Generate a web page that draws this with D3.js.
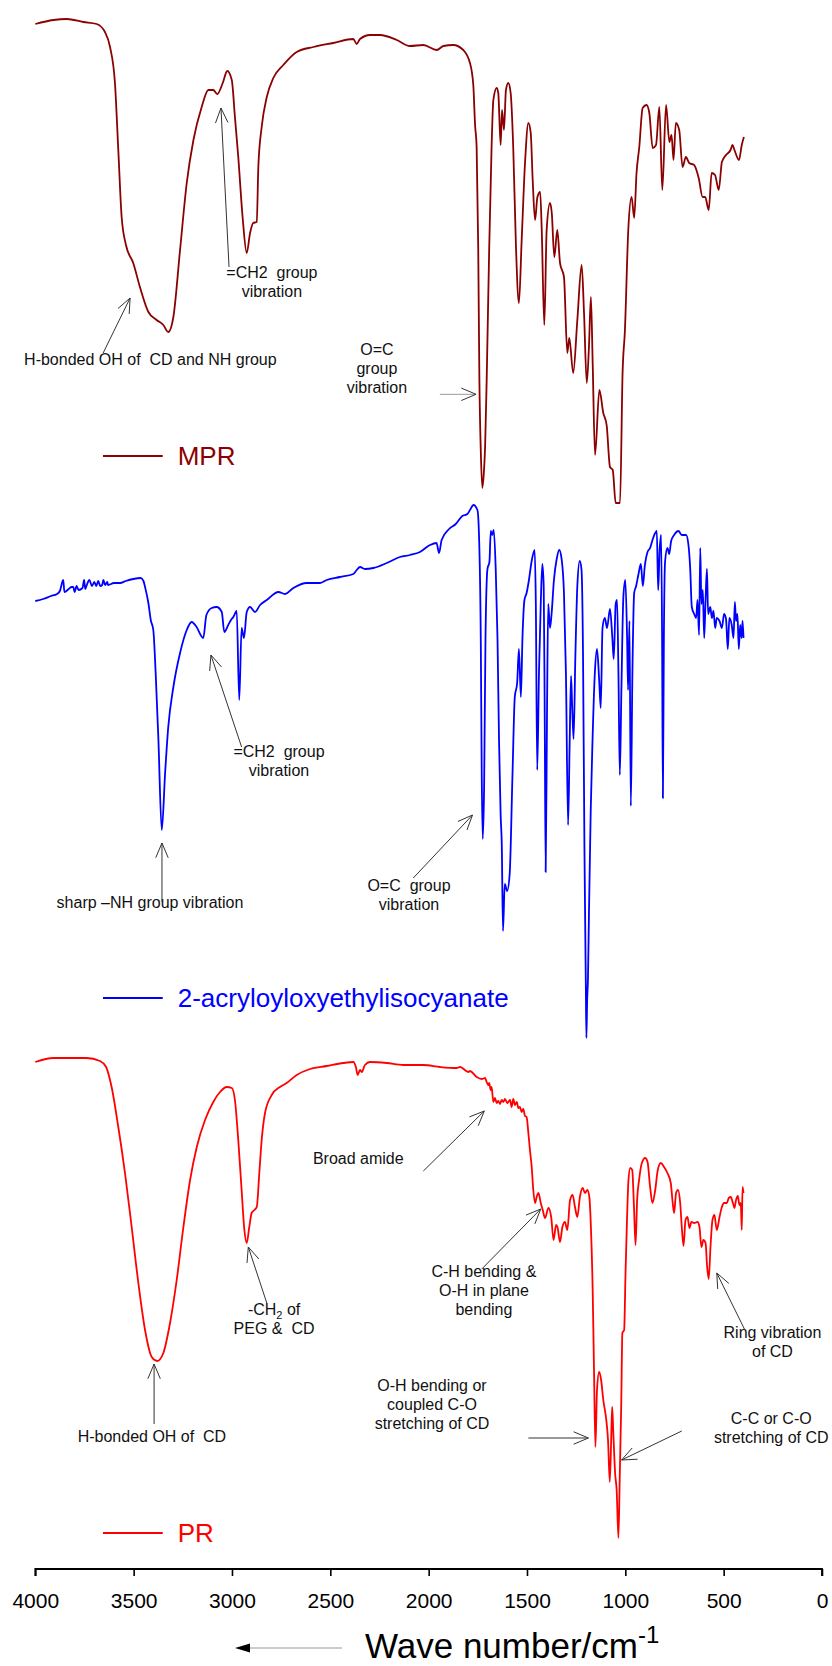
<!DOCTYPE html>
<html>
<head>
<meta charset="utf-8">
<script src="https://cdn.jsdelivr.net/npm/d3@7"></script>
<style>
  html, body { margin: 0; padding: 0; background: #fff; }
  svg { display: block; }
  text { font-family: "Liberation Sans", Arial, sans-serif; }
</style>
</head>
<body>
<div id="chart"></div>
<script>
// ---------------- DATA (wavenumber cm^-1, transmittance a.u.) ----------------
const tickValues = [4000, 3500, 3000, 2500, 2000, 1500, 1000, 500, 0];

const mprData = [
 [4000,491],[3908,495],[3840,496],[3756,493],[3688,491],[3646,483],[3620,468],[3595,432],[3578,365],
 [3561,298],[3539,270],[3502,252],[3468,228],[3425,203],[3383,195],[3349,190],[3324,183],[3298,198],
 [3264,265],[3230,332],[3196,375],[3154,408],[3120,425],[3095,425],[3075,421],[3047,432],[3024,444],
 [3001,435],[2985,398],[2968,358],[2946,298],[2925,262],[2908,282],[2892,292],[2874,293],[2866,348],
 [2849,388],[2823,418],[2790,437],[2739,450],[2671,463],[2586,468],[2485,472],[2383,476],[2366,471],
 [2349,476],[2298,480],[2247,480],[2162,475],[2095,469],[2027,470],[1959,465],[1925,469],[1875,470],
 [1824,465],[1790,452],[1773,430],[1764,390],[1756,368],[1748,268],[1742,135],[1735,65],[1727,27],
 [1720,40],[1713,68],[1705,135],[1692,268],[1680,368],[1671,415],[1654,427],[1646,422],[1634,370],
 [1627,405],[1617,385],[1607,425],[1595,432],[1583,422],[1570,368],[1556,268],[1541,212],[1527,275],
 [1510,352],[1493,392],[1481,382],[1471,335],[1459,295],[1447,318],[1433,323],[1425,285],[1412,190],
 [1400,285],[1383,312],[1374,302],[1361,258],[1346,285],[1332,252],[1312,238],[1295,162],[1285,177],
 [1265,142],[1244,195],[1222,250],[1210,202],[1196,132],[1185,168],[1175,218],[1166,152],[1154,60],
 [1132,125],[1112,102],[1095,90],[1078,48],[1064,45],[1049,12],[1027,12],[1014,142],[1002,185],
 [985,285],[968,318],[955,297],[943,342],[929,368],[912,407],[892,410],[878,402],[861,367],[844,370],
 [827,408],[812,325],[793,410],[776,373],[765,380],[755,355],[743,392],[726,385],[709,348],[692,358],
 [675,352],[650,350],[627,337],[607,318],[594,318],[576,305],[561,342],[544,340],[525,325],[509,353],
 [488,360],[465,365],[455,370],[445,365],[422,355],[408,370],[397,378]
];

const aicData = [
 [4000,449],[3960,451],[3920,454],[3890,456],[3875,459],[3858,470],[3852,458],[3830,461],[3815,463],
 [3807,463],[3800,458],[3790,464],[3780,460],[3760,462],[3752,470],[3746,461],[3740,464],[3725,470],
 [3712,464],[3700,468],[3690,464],[3680,469],[3670,464],[3660,465],[3654,470],[3645,465],[3634,468],
 [3630,465],[3600,467],[3569,467],[3540,469],[3502,471],[3464,472],
 [3450,469],[3442,463],[3425,447],[3413,430],[3400,420],[3388,377],[3374,310],[3357,220],[3340,277],
 [3324,323],[3298,363],[3264,397],[3230,420],[3205,428],[3180,423],[3146,412],[3130,435],[3103,442],
 [3078,443],[3052,438],[3039,418],[3019,425],[3005,430],[2993,433],[2976,439],[2963,350],[2951,422],
 [2939,412],[2925,438],[2908,443],[2883,438],[2857,445],[2823,450],[2764,458],[2730,456],[2688,462],
 [2620,467],[2552,467],[2518,470],[2451,473],[2383,476],[2366,480],[2349,483],[2324,481],[2281,482],
 [2213,487],[2146,493],[2095,495],[2044,498],[1993,505],[1960,507],[1947,497],[1934,510],[1896,521],
 [1862,526],[1829,534],[1803,536],[1790,540],[1772,545],[1752,540],[1744,515],[1735,412],[1730,273],
 [1725,211],[1718,263],[1711,412],[1701,481],[1691,488],[1684,519],[1677,515],[1669,520],[1659,481],
 [1650,412],[1642,308],[1634,235],[1628,204],[1622,119],[1613,166],[1601,159],[1588,176],[1574,273],
 [1562,353],[1550,367],[1541,401],[1531,353],[1523,412],[1513,450],[1502,457],[1490,470],[1477,488],
 [1461,500],[1455,446],[1448,280],[1439,377],[1430,446],[1422,486],[1415,464],[1410,342],[1405,178],
 [1398,342],[1392,446],[1383,422],[1375,436],[1363,470],[1349,491],[1336,500],[1324,491],[1312,457],
 [1302,377],[1291,225],[1283,308],[1276,374],[1270,342],[1263,311],[1254,394],[1244,464],[1232,489],
 [1223,481],[1215,394],[1208,204],[1201,69],[1198,12],[1194,50],[1190,71],[1185,135],[1176,239],
 [1167,308],[1155,377],[1144,401],[1133,370],[1125,342],[1116,422],[1104,432],[1093,422],[1078,441],
 [1066,412],[1059,391],[1049,446],[1042,450],[1035,377],[1028,275],[1020,360],[1010,453],[1000,470],
 [991,412],[986,360],[979,429],[972,244],[964,377],[955,457],[945,464],[933,476],[921,486],[911,464],
 [901,484],[887,498],[874,502],[862,510],[848,517],[840,519],[833,460],[826,498],[818,515],[813,412],
 [809,252],[804,412],[798,488],[786,502],[777,496],[767,509],[752,515],[730,519],[713,515],[691,515],
 [679,505],[670,481],[662,443],[650,436],[640,432],[633,450],[625,415],[619,502],[613,446],[606,460],
 [599,412],[592,450],[585,481],[579,436],[568,443],[560,432],[552,439],[543,422],[535,432],[521,429],
 [509,422],[498,436],[488,431],[479,401],[471,432],[459,425],[450,412],[443,448],[437,429],[430,436],
 [423,401],[416,425],[409,412],[404,429],[399,412]
];

const prData = [
 [4000,488],[3908,492],[3824,492],[3739,492],[3671,489],[3640,483],[3612,463],[3578,423],[3544,377],
 [3510,323],[3476,267],[3442,220],[3408,193],[3380,189],[3349,197],[3315,227],[3281,270],[3247,323],
 [3213,370],[3179,403],[3137,430],[3095,448],[3061,458],[3027,463],[3001,462],[2985,450],[2968,410],
 [2951,360],[2937,320],[2925,307],[2912,323],[2900,337],[2886,340],[2874,343],[2861,377],[2849,410],
 [2832,437],[2798,455],[2756,463],[2722,467],[2671,475],[2603,481],[2518,484],[2434,487],[2383,488],
 [2370,483],[2361,475],[2349,480],[2340,478],[2324,485],[2298,488],[2213,487],[2129,485],[2027,485],
 [1942,483],[1858,482],[1840,483],[1798,478],[1790,479],[1756,473],[1730,471],[1713,472],[1705,468],
 [1697,465],[1692,467],[1685,460],[1680,463],[1671,448],[1663,452],[1654,447],[1646,449],[1637,446],
 [1629,450],[1620,448],[1612,451],[1600,447],[1586,450],[1578,443],[1570,451],[1561,445],[1552,448],
 [1544,442],[1536,443],[1527,438],[1519,441],[1510,434],[1502,433],[1493,417],
 [1485,400],[1476,383],[1468,360],[1459,347],[1451,353],[1442,357],[1430,347],[1420,340],[1408,332],
 [1391,342],[1377,333],[1365,310],[1352,325],[1345,323],[1332,308],[1320,323],[1307,328],[1295,320],
 [1281,350],[1268,355],[1256,343],[1244,333],[1231,353],[1217,362],[1205,357],[1193,360],[1183,353],
 [1175,323],[1166,260],[1159,177],[1152,103],[1144,160],[1133,178],[1123,170],[1112,150],[1098,132],
 [1088,110],[1079,68],[1072,110],[1067,143],[1061,117],[1052,77],[1044,60],[1035,12],[1028,77],
 [1021,143],[1015,217],[1006,220],[999,277],[992,327],[984,370],[975,382],[965,380],[956,343],[948,305],
 [940,350],[930,370],[916,387],[899,392],[887,388],[874,363],[862,347],[848,360],[835,380],[820,387],
 [803,383],[786,377],[769,367],[759,347],[752,337],[742,357],[732,360],[721,347],[713,323],[704,304],
 [694,330],[684,333],[674,322],[664,328],[650,327],[633,328],[623,323],[613,303],[603,310],[592,307],
 [584,283],[576,271],[567,303],[557,330],[547,335],[535,320],[521,333],[509,343],[498,347],[484,347],
 [474,352],[464,353],[453,347],[445,342],[437,350],[428,354],[420,345],[413,347],[408,320],[404,363],
 [399,357]
];

const seriesNames = ["MPR", "2-acryloyloxyethylisocyanate", "PR"];
const seriesColors = ["#8B0000", "#0000FF", "#FF0000"];

// annotations: text anchor point (wavenumber, value) and arrow (from -> to) in data units
const mprNotes = [
  {lines: ["H-bonded OH of  CD and NH group"], tx: 4057, ty: 150, anchor: "start", from: [3655, 162], to: [3518, 217]},
  {lines: ["=CH2  group", "vibration"], tx: 2797, ty: 237, from: [3015, 248], to: [3056, 407]},
  {lines: ["O=C", "group", "vibration"], tx: 2263, ty: 160, from: [1943, 120.7], to: [1759, 120.7], gray: true}
];
const aicNotes = [
  {lines: ["sharp \u2013NH group vibration"], tx: 3417, ty: 142, from: [3356, 148], to: [3356, 207]},
  {lines: ["=CH2  group", "vibration"], tx: 2761, ty: 293, from: [2951, 303], to: [3107, 395]},
  {lines: ["O=C  group", "vibration"], tx: 2100, ty: 159, from: [2078, 172], to: [1777, 235]}
];
const prNotes = [
  {lines: ["Broad amide"], tx: 2358, ty: 386, from: [2027, 379], to: [1717, 439]},
  {lines: ["-CH{2} of", "PEG &  CD"], tx: 2786, ty: 235, from: [2823, 247], to: [2917, 303]},
  {lines: ["H-bonded OH of  CD"], tx: 3407, ty: 108, from: [3396, 126], to: [3396, 186]},
  {lines: ["C-H bending &", "O-H in plane", "bending"], tx: 1719, ty: 273, from: [1730, 281], to: [1430, 341]},
  {lines: ["O-H bending or", "coupled C-O", "stretching of CD"], tx: 1983, ty: 159, from: [1493, 112], to: [1188, 112]},
  {lines: ["C-C or C-O", "stretching of CD"], tx: 258, ty: 126, from: [713, 119], to: [1019, 90]},
  {lines: ["Ring vibration", "of CD"], tx: 252, ty: 212, from: [392, 220], to: [535, 277]}
];
// legend key positions (data units within each panel)
const legendKey = {w0: 3656, w1: 3352, wText: 3276};
const legendVals = [[59, 50], [52, 43], [17, 8]];

// ---------------- CHART ----------------
const W = 832, H = 1666;
const svg = d3.select("#chart").append("svg").attr("width", W).attr("height", H)
  .attr("viewBox", `0 0 ${W} ${H}`);
svg.append("rect").attr("width", W).attr("height", H).attr("fill", "#fff");

const x = d3.scaleLinear().domain([4000, 0]).range([35.3, 822]);
const yScales = [
  d3.scaleLinear().domain([0, 500]).range([515, 15]),
  d3.scaleLinear().domain([0, 550]).range([1050, 500]),
  d3.scaleLinear().domain([0, 500]).range([1550, 1050])
];
const datasets = [mprData, aicData, prData];
const notes = [mprNotes, aicNotes, prNotes];

datasets.forEach((data, i) => {
  const y = yScales[i];
  const line = d3.line().x(d => x(d[0])).y(d => y(d[1])).curve(d3.curveMonotoneX);
  svg.append("path").datum(data).attr("d", line)
    .attr("fill", "none").attr("stroke", seriesColors[i])
    .attr("stroke-width", 1.8).attr("stroke-linejoin", "round");
});

// annotations
function arrowHead(g, x1, y1, x2, y2, color) {
  const ang = Math.atan2(y1 - y2, x1 - x2);
  const L = 16, a = 0.4;
  const p = [
    [x2 + L * Math.cos(ang + a), y2 + L * Math.sin(ang + a)],
    [x2, y2],
    [x2 + L * Math.cos(ang - a), y2 + L * Math.sin(ang - a)]
  ];
  g.append("path").attr("d", d3.line()(p)).attr("fill", "none")
    .attr("stroke", color).attr("stroke-width", 1);
}

notes.forEach((arr, i) => {
  const y = yScales[i];
  const g = svg.append("g");
  arr.forEach(n => {
    const t = g.append("text")
      .attr("x", x(n.tx)).attr("y", y(n.ty))
      .attr("text-anchor", n.anchor || "middle")
      .attr("font-size", 16).attr("fill", "#111")
      .style("white-space", "pre");
    n.lines.forEach((ln, k) => {
      const parts = ln.split(/\{2\}/);
      t.append("tspan").attr("x", x(n.tx)).attr("dy", k === 0 ? 0 : 19).text(parts[0]);
      if (parts.length > 1) {
        t.append("tspan").attr("font-size", 11).attr("dy", 4).text("2");
        t.append("tspan").attr("dy", -4).text(parts[1]);
      }
    });
    const x1 = x(n.from[0]), y1 = y(n.from[1]), x2 = x(n.to[0]), y2 = y(n.to[1]);
    const col = n.gray ? "#999" : "#333";
    g.append("line").attr("x1", x1).attr("y1", y1).attr("x2", x2).attr("y2", y2)
      .attr("stroke", col).attr("stroke-width", 1);
    arrowHead(g, x1, y1, x2, y2, "#333");
  });
});

// legends
seriesNames.forEach((name, i) => {
  const y = yScales[i];
  const [lv, tv] = legendVals[i];
  svg.append("line").attr("x1", x(legendKey.w0)).attr("x2", x(legendKey.w1))
    .attr("y1", y(lv)).attr("y2", y(lv)).attr("stroke", seriesColors[i]).attr("stroke-width", 1.8);
  svg.append("text").attr("x", x(legendKey.wText)).attr("y", y(tv))
    .attr("font-size", 26).attr("fill", seriesColors[i]).text(name);
});

// x axis
const axisY = 1569;
const axis = d3.axisBottom(x).tickValues(tickValues).tickSize(7).tickPadding(17)
  .tickFormat(d3.format("d"));
const ag = svg.append("g").attr("transform", `translate(0,${axisY})`).call(axis);
ag.select(".domain").attr("stroke", "#000").attr("stroke-width", 1.8).attr("d", `M${x(4000)},7V0H${x(0)}V7`);
ag.selectAll(".tick line").attr("stroke", "#000").attr("stroke-width", 1.6);
ag.selectAll(".tick text").attr("font-size", 21).attr("fill", "#000")
  .attr("font-family", "'Liberation Sans', Arial, sans-serif");

// axis title
const title = svg.append("text").attr("x", 365).attr("y", 1658)
  .attr("font-size", 35).attr("fill", "#000");
title.append("tspan").text("Wave number/cm");
title.append("tspan").attr("font-size", 24).attr("dy", -15).text("-1");

// direction arrow
svg.append("line").attr("x1", 248).attr("x2", 342).attr("y1", 1648).attr("y2", 1648)
  .attr("stroke", "#999").attr("stroke-width", 1.2);
svg.append("path").attr("d", d3.line()([[235, 1648], [250, 1643.5], [250, 1652.5]]) + "Z")
  .attr("fill", "#000");
</script>
</body>
</html>
